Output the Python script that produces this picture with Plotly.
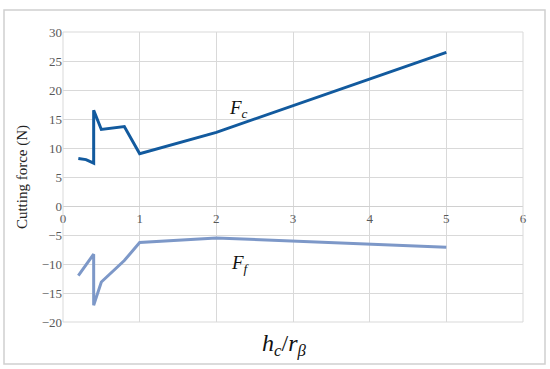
import plotly.graph_objects as go

ratio = [0.2, 0.3, 0.4, 0.4, 0.5, 0.8, 1, 2, 5]
fc = [8.2, 8.0, 7.4, 16.5, 13.2, 13.7, 9.0, 12.7, 26.5]
ff = [-12.0, -10.2, -8.3, -17.1, -13.1, -9.4, -6.3, -5.5, -7.1]

x_ticks = [0, 1, 2, 3, 4, 5, 6]
y_ticks = [30, 25, 20, 15, 10, 5, 0, -5, -10, -15, -20]

serif = "Liberation Serif, DejaVu Serif, serif"

fig = go.Figure()
fig.add_trace(go.Scatter(x=ratio, y=fc, mode="lines",
                         line=dict(color="#125a9e", width=3)))
fig.add_trace(go.Scatter(x=ratio, y=ff, mode="lines",
                         line=dict(color="#7d98c8", width=3)))

fig.update_layout(
    width=550, height=369,
    margin=dict(l=63, r=27, t=32, b=47),
    plot_bgcolor="white", paper_bgcolor="white",
    showlegend=False,
    font=dict(family=serif, color="#595959", size=13),
    xaxis=dict(range=[0, 6], tickvals=x_ticks, showgrid=True,
               gridcolor="#d9d9d9", zeroline=False,
               showline=True, linecolor="#d0d0d0",
               anchor="free", position=0.4, ticks="",
               mirror=False),
    yaxis=dict(range=[-20, 30], tickvals=y_ticks, showgrid=True,
               gridcolor="#d9d9d9", zeroline=False, ticks="",
               showline=False,
               title=dict(text="Cutting force (N)", standoff=10,
                          font=dict(family=serif, size=15, color="#222"))),
)

# outer chart border
fig.add_shape(type="rect", xref="paper", yref="paper",
              x0=-59 / 460, x1=482 / 460, y0=-42 / 290, y1=312 / 290,
              line=dict(color="#d0d0d0", width=1.5), fillcolor="rgba(0,0,0,0)")
# plot area right/top edges
fig.add_shape(type="rect", xref="paper", yref="paper", x0=0, x1=1, y0=0, y1=1,
              line=dict(color="#d9d9d9", width=1), fillcolor="rgba(0,0,0,0)")

fig.add_annotation(x=2.29, y=16.8, text="<i>F</i><sub><i>c</i></sub>",
                   showarrow=False, font=dict(family=serif, size=19, color="#111"))
fig.add_annotation(x=2.31, y=-10.0, text="<i>F</i><sub><i>f</i></sub>",
                   showarrow=False, font=dict(family=serif, size=19, color="#111"))
fig.add_annotation(xref="paper", yref="paper", x=0.48, y=-0.08, yanchor="middle",
                   text="<i>h</i><sub><i>c</i></sub>/<i>r</i><sub><i>β</i></sub>",
                   showarrow=False, font=dict(family=serif, size=24, color="#111"))

fig.write_html("out.html", config={"displayModeBar": False},
               post_script="document.body.style.margin='0';")
